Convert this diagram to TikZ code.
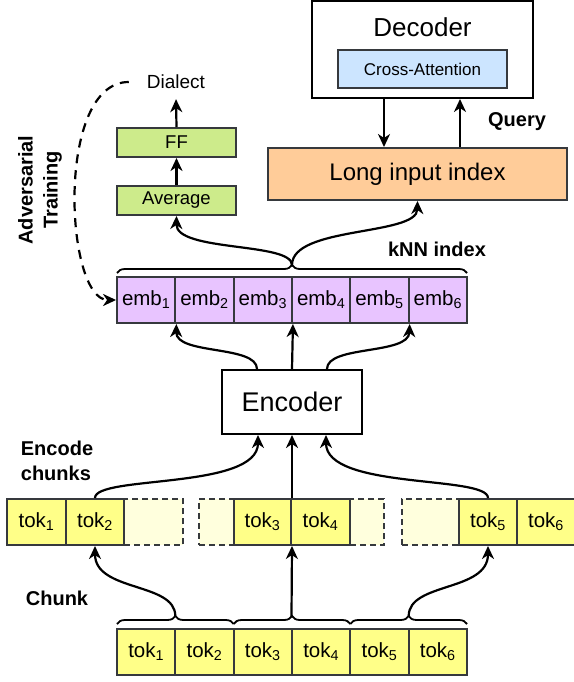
\documentclass[tikz,border=0pt]{standalone}
\usepackage{fontspec}
\setmainfont{Liberation Sans}
\usetikzlibrary{arrows.meta,decorations.pathreplacing,calc}
\definecolor{tokc}{HTML}{FFFF88}
\definecolor{lightc}{HTML}{FFFFDD}
\definecolor{embc}{HTML}{E8C4FF}
\definecolor{greenc}{HTML}{CDEB8B}
\definecolor{orangec}{HTML}{FFCC99}
\definecolor{bluec}{HTML}{CCE5FF}
\definecolor{strokec}{HTML}{36393D}
\begin{document}
\begin{tikzpicture}[x=1pt,y=-1pt,
  cell/.style={draw=strokec,line width=2pt,inner sep=0pt,minimum height=46pt,font=\fontsize{20.5}{23}\selectfont},
  tokbox/.style={cell,fill=tokc,minimum width=58.3pt},
  padbox/.style={cell,fill=lightc,dashed,dash pattern=on 6pt off 4pt},
  embbox/.style={cell,fill=embc,minimum width=58.3pt},
  greenbox/.style={draw=strokec,line width=2pt,fill=greenc,inner sep=0pt,minimum width=119pt,minimum height=29pt,font=\fontsize{18.5}{21}\selectfont},
  bigbox/.style={draw=black,line width=2pt,inner sep=0pt},
  lbl/.style={font=\fontsize{20}{25}\selectfont\bfseries,align=left,inner sep=0pt},
  arr/.style={line width=2.2pt,-{Stealth[length=13pt,width=12pt,inset=4pt]}},
  brc/.style={line width=1.8pt,decorate,decoration={brace,amplitude=8pt}}]
\useasboundingbox (0,0) rectangle (573,682);

% bottom token row
\foreach \i/\x in {1/146.2,2/204.5,3/262.8,4/321.2,5/379.5,6/437.8}
  \node[tokbox] (b\i) at (\x,652) {tok\textsubscript{\i}};

% middle row: padding boxes first
\node[padbox,minimum width=59pt] (p1) at (153.5,522) {};
\node[padbox,minimum width=35pt] (p2) at (216.5,522) {};
\node[padbox,minimum width=34pt] (p3) at (367,522) {};
\node[padbox,minimum width=57pt] (p4) at (430.5,522) {};
\node[tokbox,minimum width=59pt] (m1) at (36.5,522) {tok\textsubscript{1}};
\node[tokbox,minimum width=58pt] (m2) at (95,522) {tok\textsubscript{2}};
\node[tokbox,minimum width=57pt] (m3) at (262.5,522) {tok\textsubscript{3}};
\node[tokbox,minimum width=59pt] (m4) at (320.5,522) {tok\textsubscript{4}};
\node[tokbox,minimum width=58pt] (m5) at (488,522) {tok\textsubscript{5}};
\node[tokbox,minimum width=58pt] (m6) at (546,522) {tok\textsubscript{6}};

% embedding row
\foreach \i/\x in {1/146.2,2/204.5,3/262.8,4/321.2,5/379.5,6/437.8}
  \node[embbox] (e\i) at (\x,300) {emb\textsubscript{\i}};

% encoder
\node[bigbox,minimum width=140pt,minimum height=64pt,font=\fontsize{27}{30}\selectfont] (enc) at (292,402) {Encoder};

% classifier head
\node[greenbox] (avg) at (176.5,200.5) {Average};
\node[greenbox] (ff) at (176.5,142.5) {FF};
\node[inner sep=0pt,font=\fontsize{19}{22}\selectfont] (dial) at (176,82) {Dialect};

% decoder
\node[bigbox,minimum width=221pt,minimum height=97pt] (dec) at (422.5,49.5) {};
\node[inner sep=0pt,font=\fontsize{26}{30}\selectfont] (dect) at (422.5,27) {Decoder};
\node[draw=strokec,line width=2pt,fill=bluec,inner sep=0pt,minimum width=169pt,minimum height=38pt,font=\fontsize{17}{20}\selectfont] (xatt) at (422.5,69) {Cross-Attention};
\node[draw=strokec,line width=2pt,fill=orangec,inner sep=0pt,minimum width=299pt,minimum height=52pt,font=\fontsize{24}{28}\selectfont] (lii) at (417.5,174) {Long input index};

% labels
\node[lbl] (q) at (517,122) {Query};
\node[lbl] (knn) at (437,249) {kNN index};
\node[lbl] (ench) at (57,461) {Encode\\chunks};
\node[lbl] (chk) at (57,598) {Chunk};
\node[lbl,align=center,rotate=90] (adv) at (40,190) {Adversarial\\Training};

% braces
\draw[brc] (117,624) -- (233.7,624);
\draw[brc] (233.7,624) -- (350.3,624);
\draw[brc] (350.3,624) -- (467,624);
\draw[brc] (117,273) -- (467,273);
\coordinate (bt1) at (175.3,616);
\coordinate (bt2) at (291.5,616);
\coordinate (bt3) at (408.7,616);
\coordinate (et) at (292,265);

% chunking arrows
\draw[arr] (bt1) .. controls (175.3,582) and (95,592) .. (m2.south);
\draw[arr] (bt2) -- (m3.south east);
\draw[arr] (bt3) .. controls (408.7,582) and (488,592) .. (m5.south);

% encode chunks arrows
\draw[arr] (m2.north) .. controls (95,475) and (258,490) .. ($(enc.south)+(-34,0)$);
\draw[arr] (m3.north east) -- (enc.south);
\draw[arr] (m5.north) .. controls (488,475) and (326,490) .. ($(enc.south)+(34,0)$);

% encoder to embeddings
\draw[arr] ($(enc.north)+(-35,0)$) .. controls (257,345) and (176,355) .. (e1.south east);
\draw[arr] (enc.north) -- (e3.south east);
\draw[arr] ($(enc.north)+(35,0)$) .. controls (327,345) and (408.7,355) .. (e5.south east);

% brace to heads
\draw[arr] (et) .. controls (292,242) and (176,252) .. (avg.south);
\draw[arr] (et) .. controls (292,226) and (417,236) .. (lii.south);
\draw[arr] (avg.north) -- (ff.south);
\draw[arr] (ff.north) -- ($(dial.south)+(0,10)$);

% decoder <-> index
\draw[arr] (dec.south -| 384,0) -- (lii.north -| 384,0);
\draw[arr] (lii.north -| 460,0) -- (dec.south -| 460,0);

% adversarial dashed
\draw[line width=2.2pt,dash pattern=on 9pt off 7pt,-{Stealth[length=13pt,width=12pt,inset=4pt]}]
  ($(dial.west)+(-18,0)$) .. controls (55,82) and (65,300) .. (e1.west);
\end{tikzpicture}
\end{document}
